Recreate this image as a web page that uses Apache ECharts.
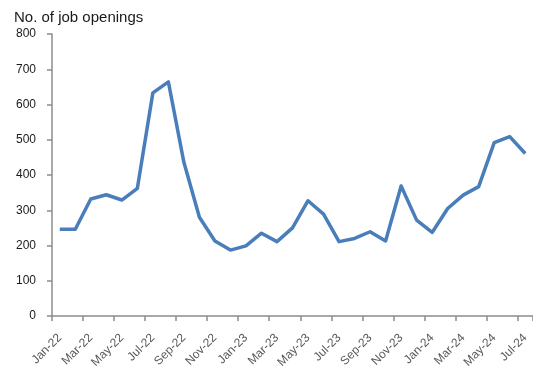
<!DOCTYPE html>
<html>
<head>
<meta charset="utf-8">
<script src="https://cdn.jsdelivr.net/npm/echarts@6/dist/echarts.min.js"></script>
<style>
  html, body { margin: 0; padding: 0; background: #fff; }
  #chart { width: 533px; height: 371px; }
</style>
</head>
<body>
<div id="chart"></div>
<script>
// Monthly job openings, Jan 2022 – Jul 2024
const months = [
  'Jan-22','Feb-22','Mar-22','Apr-22','May-22','Jun-22','Jul-22','Aug-22','Sep-22','Oct-22','Nov-22','Dec-22',
  'Jan-23','Feb-23','Mar-23','Apr-23','May-23','Jun-23','Jul-23','Aug-23','Sep-23','Oct-23','Nov-23','Dec-23',
  'Jan-24','Feb-24','Mar-24','Apr-24','May-24','Jun-24','Jul-24'
];
const openings = [
  246, 246, 332, 344, 329, 362, 633, 664, 436, 280, 213, 187,
  199, 235, 211, 250, 327, 289, 211, 220, 239, 213, 369, 272,
  237, 305, 343, 367, 492, 509, 461
];
const yTicks = { min: 0, max: 800, step: 100 };

const FONT = "'Liberation Sans', Arial, sans-serif";
const AXIS_GREY = '#8c8c8c';

const chart = echarts.init(document.getElementById('chart'), null, { renderer: 'canvas' });
chart.setOption({
  animation: false,
  backgroundColor: '#ffffff',
  title: {
    text: 'No. of job openings',
    left: 9,
    top: 5,
    textStyle: { fontFamily: FONT, fontSize: 15, fontWeight: 'normal', color: '#1a1a1a' }
  },
  grid: { left: 52, top: 34, width: 485.5, height: 282, containLabel: false },
  xAxis: {
    type: 'category',
    data: months,
    boundaryGap: true,
    axisLine: { lineStyle: { color: AXIS_GREY, width: 1.5 } },
    axisTick: { show: true, interval: 1, length: 5, lineStyle: { color: AXIS_GREY, width: 1.5 } },
    axisLabel: {
      interval: 1,
      rotate: 45,
      margin: 20,
      color: '#595959',
      fontFamily: FONT,
      fontSize: 12
    },
    splitLine: { show: false }
  },
  yAxis: {
    type: 'value',
    min: yTicks.min,
    max: yTicks.max,
    interval: yTicks.step,
    axisLine: { show: true, lineStyle: { color: AXIS_GREY, width: 1.5 } },
    axisTick: { show: true, length: 5, lineStyle: { color: AXIS_GREY, width: 1.5 } },
    axisLabel: {
      margin: 16,
      color: '#1a1a1a',
      fontFamily: FONT,
      fontSize: 12
    },
    splitLine: { show: false }
  },
  series: [{
    type: 'line',
    data: openings,
    showSymbol: false,
    smooth: false,
    lineStyle: { color: '#4a7ebb', width: 3.5, join: 'round' },
    itemStyle: { color: '#4a7ebb' }
  }]
});
</script>
</body>
</html>
